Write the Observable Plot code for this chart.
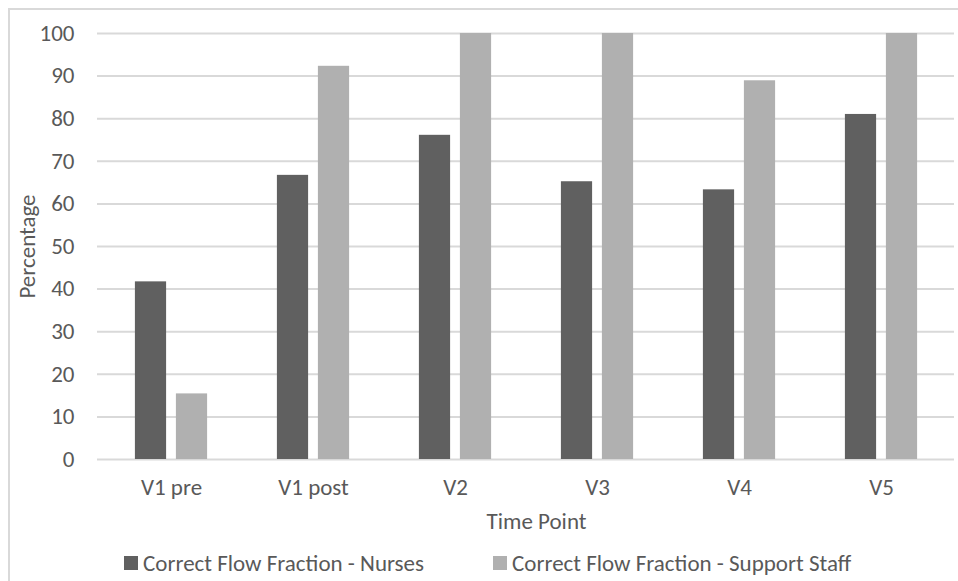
<!DOCTYPE html>
<html>
<head>
<meta charset="utf-8">
<script src="https://cdn.jsdelivr.net/npm/d3@7"></script>
<script src="https://cdn.jsdelivr.net/npm/@observablehq/plot@0.6"></script>
<style>
  html, body { margin: 0; padding: 0; background: #fff; }
  #wrap { position: relative; width: 958px; height: 581px; overflow: hidden;
          font-family: Carlito, Calibri, Lato, sans-serif; color: #595959; }
  #frame { position: absolute; left: 8px; top: 8px; width: 960px; height: 590px;
           border: 2px solid #d9d9d9; box-sizing: border-box; }
  #chart { position: absolute; left: 0; top: 0; }
  #legend { position: absolute; left: 0; top: 548px; width: 958px; height: 30px;
            font-size: 23px; white-space: nowrap; }
  .item { position: absolute; top: 0; height: 30px; display: flex; align-items: center; }
  .swatch { width: 14px; height: 14px; margin-right: 5px; }
</style>
</head>
<body>
<div id="wrap">
  <div id="frame"></div>
  <div id="chart"></div>
  <div id="legend"></div>
</div>
<script>
// Time points on the x axis
const timePoints = ["V1 pre", "V1 post", "V2", "V3", "V4", "V5"];
// Series names
const seriesNames = ["Correct Flow Fraction - Nurses", "Correct Flow Fraction - Support Staff"];
// Percentage of correct flow, per time point
const nurses = [41.7, 66.7, 76.1, 65.2, 63.3, 81.0];
const supportStaff = [15.4, 92.3, 100, 100, 88.9, 100];
// Y axis ticks
const yTicks = [0, 10, 20, 30, 40, 50, 60, 70, 80, 90, 100];

const colors = ["#606060", "#b0b0b0"];

const rows = timePoints.flatMap((t, i) => [
  {time: t, series: seriesNames[0], value: nurses[i]},
  {time: t, series: seriesNames[1], value: supportStaff[i]}
]);

const font = "Carlito, Calibri, Lato, sans-serif";
const fs = 23;

const chart = Plot.plot({
  width: 958,
  height: 545,
  marginLeft: 97,
  marginRight: 4,
  marginTop: 33,
  marginBottom: 86,
  style: {fontFamily: font, fontSize: fs + "px", color: "#595959", background: "transparent"},
  x: {domain: timePoints, padding: 0, label: null},
  y: {domain: [0, 100], label: null},
  marks: [
    Plot.gridY(yTicks, {stroke: "#d9d9d9", strokeOpacity: 1, strokeWidth: 2}),
    Plot.barY(rows.filter(d => d.series === seriesNames[0]), {
      x: "time", y: "value", fill: colors[0], insetLeft: 34.9, insetRight: 75.9
    }),
    Plot.barY(rows.filter(d => d.series === seriesNames[1]), {
      x: "time", y: "value", fill: colors[1], insetLeft: 75.9, insetRight: 34.9
    }),
    Plot.axisY({ticks: yTicks, tickSize: 0, tickPadding: 23, label: null, fontSize: fs}),
    Plot.axisX({tickSize: 0, tickPadding: 19, label: null, fontSize: fs}),
    Plot.text(["Time Point"], {frameAnchor: "bottom", dx: 10.5, dy: 69, fontSize: fs, fill: "#595959"}),
    Plot.text(["Percentage"], {frameAnchor: "left", textAnchor: "middle", rotate: -90, dx: -70, fontSize: fs, fill: "#595959"})
  ]
});
document.getElementById("chart").appendChild(chart);

// Legend beneath the plot
const legendLeft = [124, 493];
const legend = d3.select("#legend");
seriesNames.forEach((name, i) => {
  const item = legend.append("div").attr("class", "item").style("left", legendLeft[i] + "px");
  item.append("div").attr("class", "swatch").style("background", colors[i]);
  item.append("span").text(name);
});
</script>
</body>
</html>
